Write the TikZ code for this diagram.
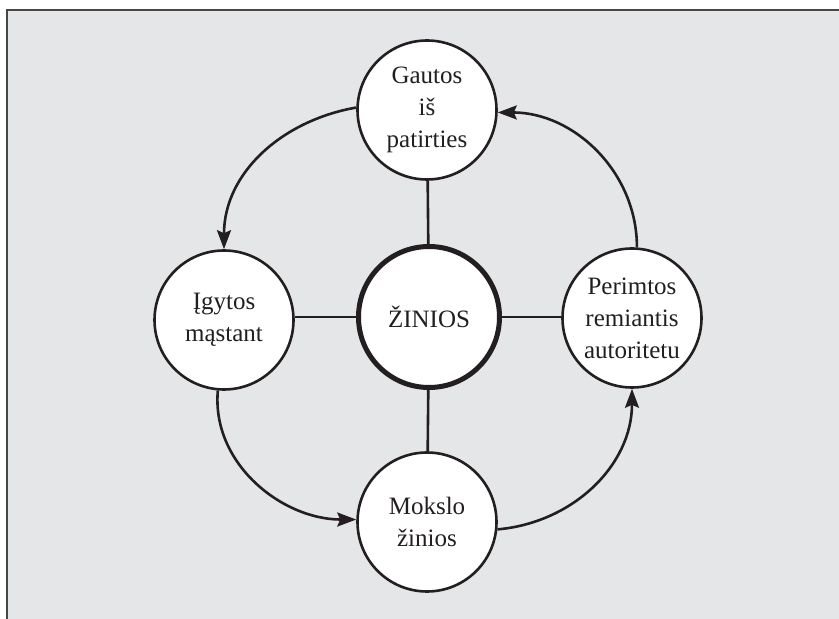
\documentclass[tikz,border=0pt]{standalone}
\usepackage{fontspec}
\setmainfont{Liberation Serif}
\usetikzlibrary{arrows.meta}
\definecolor{bg}{RGB}{229,230,232}
\definecolor{ink}{RGB}{35,31,32}
\definecolor{frame}{RGB}{70,70,72}
\begin{document}
\begin{tikzpicture}[x=1pt,y=1pt,
  circ/.style={circle,draw=ink,fill=white,line width=2.6pt,minimum size=139pt,inner sep=0pt,align=center,font=\fontsize{25}{32}\selectfont,text=ink},
  hub/.style={circ,line width=5pt,minimum size=141pt},
  link/.style={draw=ink,line width=2.6pt},
  flow/.style={draw=ink,line width=2.6pt,-{Stealth[length=19pt,width=14pt,inset=3pt]}}]
\useasboundingbox (0,0) rectangle (839,619);
\fill[white] (0,0) rectangle (839,619);
\fill[bg] (7,0) rectangle (839,609);
\draw[frame,line width=1.5pt] (7,0) -- (7,609) -- (839,609);

\node[hub]  (c)   at (429,302) {ŽINIOS};
\node[circ] (top) at (427,509) {Gautos\\iš\\patirties};
\node[circ] (left) at (224,299) {Įgytos\\mąstant};
\node[circ] (right) at (632,301) {Perimtos\\remiantis\\autoritetu};
\node[circ] (bot) at (427,97) {Mokslo\\žinios};

\draw[link] (c) -- (top);
\draw[link] (c) -- (bot);
\draw[link] (c.west) -- (left.east |- c.west);
\draw[link] (c.east) -- (right.west |- c.east);

\draw[flow] (top.178) to[out=190,in=90] (left.90);
\draw[flow] (left.265) to[out=-95,in=180] (bot.178);
\draw[flow] (bot.-6) to[out=5,in=-90] (right.270);
\draw[flow] (right.86) to[out=90,in=0] (top.-2);
\end{tikzpicture}
\end{document}
